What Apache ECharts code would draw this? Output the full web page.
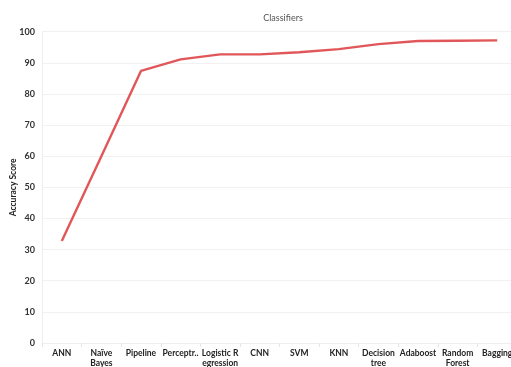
<!DOCTYPE html>
<html>
<head>
<meta charset="utf-8">
<script src="https://cdn.jsdelivr.net/npm/echarts@6/dist/echarts.min.js"></script>
<style>
  html, body { margin: 0; padding: 0; background: #fff; }
  #chart { width: 511px; height: 367px; }
</style>
</head>
<body>
<div id="chart"></div>
<script>
// Classifier names (x axis) and their accuracy scores
const classifiers = ['ANN', 'Naïve\nBayes', 'Pipeline', 'Perceptr..', 'Logistic R\negression', 'CNN', 'SVM', 'KNN', 'Decision\ntree', 'Adaboost', 'Random\nForest', 'Bagging'];
const accuracy = [32.8, 60.0, 87.4, 91.1, 92.7, 92.7, 93.4, 94.4, 96.0, 97.0, 97.1, 97.2];
const yTicks = { min: 0, max: 100, step: 10 };

const chart = echarts.init(document.getElementById('chart'), null, { renderer: 'canvas' });
const font = 'Lato, "Open Sans", sans-serif';

chart.setOption({
  animation: false,
  title: {
    text: 'Classifiers',
    left: 278,
    top: 9,
    textAlign: 'center',
    textStyle: { fontFamily: font, fontSize: 9, fontWeight: 'normal', color: '#555' }
  },
  grid: { left: 42, right: -6, top: 31.7, bottom: 24, containLabel: false, outerBoundsMode: 'none' },
  xAxis: {
    type: 'category',
    data: classifiers,
    boundaryGap: true,
    axisLine: { show: true, lineStyle: { color: '#eeeeee', width: 1 } },
    axisTick: { show: true, length: 4, lineStyle: { color: '#e6e6e6' } },
    axisLabel: {
      interval: 0,
      margin: 5,
      fontFamily: font,
      fontSize: 8.5,
      fontWeight: 'bold',
      color: '#222',
      lineHeight: 10.5
    },
    splitLine: { show: false }
  },
  yAxis: {
    type: 'value',
    min: yTicks.min,
    max: yTicks.max,
    interval: yTicks.step,
    name: 'Accuracy Score',
    nameLocation: 'middle',
    nameGap: 24,
    nameMoveOverlap: false,
    nameRotate: 90,
    nameTextStyle: { fontFamily: font, fontSize: 8.5, fontWeight: 'bold', color: '#222' },
    axisLine: { show: true, lineStyle: { color: '#eeeeee' } },
    axisTick: { show: false },
    axisLabel: {
      margin: 7,
      fontFamily: font,
      fontSize: 9,
      fontWeight: 'bold',
      color: '#333'
    },
    splitLine: { show: true, lineStyle: { color: '#f1f1f1', width: 1 } }
  },
  series: [{
    type: 'line',
    data: accuracy,
    symbol: 'none',
    lineStyle: { color: '#e15759', width: 2.4 },
    itemStyle: { color: '#e15759' }
  }]
});
</script>
</body>
</html>
